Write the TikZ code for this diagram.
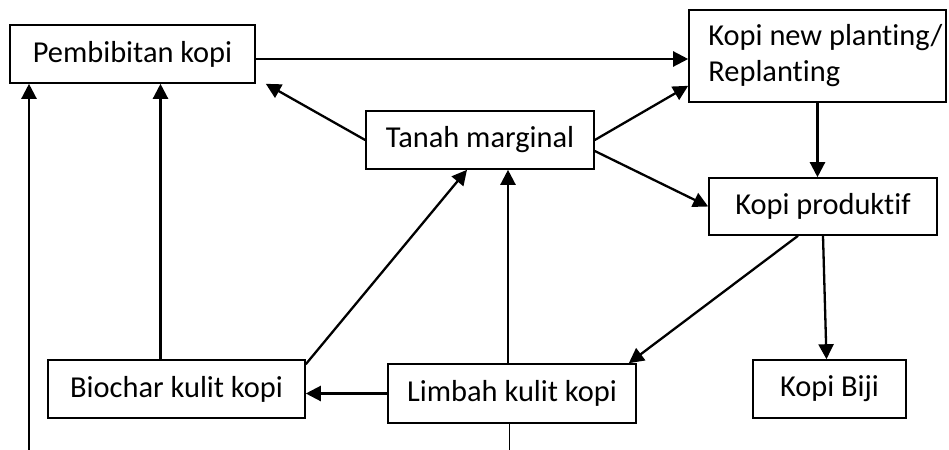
\documentclass[tikz,border=0pt]{standalone}
\usepackage{fontspec}
\setmainfont{Carlito}[Ligatures={NoCommon}]
\usetikzlibrary{arrows.meta}
\begin{document}
\begin{tikzpicture}[x=0.5pt, y=-0.5pt,
    box/.style={draw, line width=0.8pt, inner sep=0pt, font=\fontsize{15.2}{18}\selectfont},
    link/.style={line width=1.15pt, -{Triangle[length=7.5pt, width=7.5pt]}}]
    \useasboundingbox (0,0) rectangle (949,450);
    \node[box, minimum width=122.5pt, minimum height=29pt] (pembibitan) at (132.5,54) {Pembibitan kopi};
    \node[box, minimum width=128.5pt, minimum height=46pt, align=left] (planting) at (817.5,56) {\hspace*{8pt}Kopi new planting/\\\hspace*{8pt}Replanting};
    \node[box, minimum width=114pt, minimum height=29pt] (tanah) at (480,140) {Tanah marginal};
    \node[box, minimum width=114pt, minimum height=28.5pt] (produktif) at (823,206.5) {Kopi produktif};
    \node[box, minimum width=128.5pt, minimum height=29pt] (biochar) at (176.5,389) {Biochar kulit kopi};
    \node[box, minimum width=124pt, minimum height=29.5pt] (limbah) at (512,393.5) {Limbah kulit kopi};
    \node[box, minimum width=76.5pt, minimum height=29pt] (biji) at (829.5,389) {Kopi Biji};
    \coordinate (masuk) at (29,450);
    \coordinate (keluar) at (509,450);
    \draw[link] ([yshift=-2.5pt]pembibitan.east) -- ([yshift=-2.5pt]pembibitan.east -| planting.west);
    \draw[link] (tanah.west) -- ([xshift=5pt]pembibitan.south east);
    \draw[link] (tanah.east) -- ([yshift=8.5pt]planting.south west);
    \draw[link] ([yshift=-5.5pt]tanah.east) -- (produktif.west);
    \draw[link] (planting.south) -- (planting.south |- produktif.north);
    \draw[link] ([xshift=-12.5pt]produktif.south) -- ([xshift=-4pt]limbah.north east);
    \draw[link] (produktif.south) -- ([xshift=-1.5pt]biji.north);
    \draw[link] (limbah.west) -- (limbah.west -| biochar.east);
    \draw[link] ([yshift=-2.5pt]biochar.north east) -- ([xshift=-6.5pt]tanah.south);
    \draw[link] ([xshift=-2pt]limbah.north) -- ([xshift=-2pt]limbah.north |- tanah.south);
    \draw[link] ([xshift=-8pt]biochar.north) -- ([xshift=-8pt]biochar.north |- pembibitan.south);
    \draw[link] (masuk) -- (masuk |- pembibitan.south);
    \draw[line width=0.5pt] (limbah.south -| keluar) -- (keluar);
\end{tikzpicture}
\end{document}
